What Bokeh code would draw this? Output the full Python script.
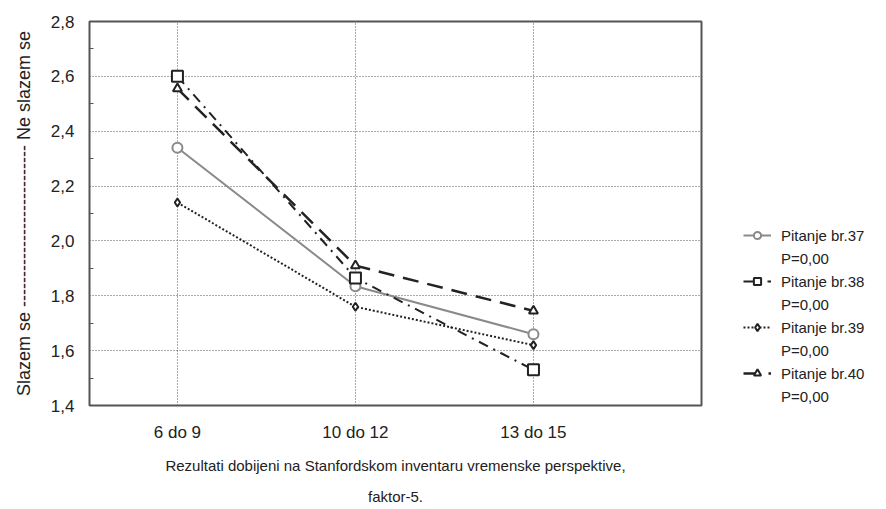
from bokeh.plotting import figure
from bokeh.layouts import row
from bokeh.models import (Legend, LegendItem, LinearAxis, FixedTicker, Range1d)
from bokeh.embed import file_html
from bokeh.resources import INLINE

categories = ["6 do 9", "10 do 12", "13 do 15"]
p37 = [2.34, 1.835, 1.66]
p38 = [2.60, 1.865, 1.53]
p39 = [2.14, 1.76, 1.62]
p40 = [2.555, 1.91, 1.745]
y_ticks = [1.4, 1.6, 1.8, 2.0, 2.2, 2.4, 2.6, 2.8]
y_tick_labels = ["1,4", "1,6", "1,8", "2,0", "2,2", "2,4", "2,6", "2,8"]
legend_names = ["Pitanje br.37", "Pitanje br.38", "Pitanje br.39", "Pitanje br.40"]
legend_p = ["P=0,00", "P=0,00", "P=0,00", "P=0,00"]
caption1 = "Rezultati dobijeni na Stanfordskom inventaru vremenske perspektive,"
caption2 = "faktor-5."
y_title = "Slazem se --------------------------- Ne slazem se"

FONT = "Liberation Sans"
xs = list(range(len(categories)))
minor_y = [round((a + b) / 2, 2) for a, b in zip(y_ticks, y_ticks[1:])]

p = figure(width=704, height=507, output_backend="svg", toolbar_location=None,
           x_range=Range1d(-0.494, 2.944), y_range=Range1d(1.4, 2.8),
           min_border_left=89, min_border_right=3, min_border_top=21,
           min_border_bottom=94)
p.background_fill_color = "white"
p.border_fill_color = "white"
p.outline_line_color = "#555555"
p.outline_line_width = 2

# axes
p.xaxis.ticker = FixedTicker(ticks=xs)
p.xaxis.major_label_overrides = {i: c for i, c in enumerate(categories)}
p.yaxis.ticker = FixedTicker(ticks=y_ticks, minor_ticks=minor_y)
p.yaxis.major_label_overrides = {v: l for v, l in zip(y_ticks, y_tick_labels)}
for ax in (p.xaxis[0], p.yaxis[0]):
    ax.axis_line_color = None
    ax.major_tick_line_color = "#555555"
    ax.major_tick_out = 0
    ax.major_tick_in = 0
    ax.minor_tick_out = 0
    ax.major_label_text_font = FONT
    ax.major_label_text_color = "#222222"
p.yaxis.minor_tick_in = 4
p.yaxis.minor_tick_line_color = "#555555"
p.xaxis.minor_tick_line_color = None
p.xaxis.major_label_text_font_size = "17px"
p.yaxis.major_label_text_font_size = "17px"
p.xaxis.major_label_standoff = 17
p.yaxis.major_label_standoff = 15
p.yaxis.axis_label = y_title
p.yaxis.axis_label_text_font = FONT
p.yaxis.axis_label_text_font_size = "18px"
p.yaxis.axis_label_text_font_style = "normal"
p.yaxis.axis_label_text_color = "#222222"
p.yaxis.axis_label_standoff = 14

# captions as axis labels below the plot
p.xaxis.axis_label = caption1
p.xaxis.axis_label_text_font = FONT
p.xaxis.axis_label_text_font_size = "15px"
p.xaxis.axis_label_text_font_style = "normal"
p.xaxis.axis_label_text_color = "#222222"
p.xaxis.axis_label_standoff = 12

cap_ax = LinearAxis(ticker=FixedTicker(ticks=[]), axis_line_color=None,
                    major_tick_line_color=None, minor_tick_line_color=None,
                    axis_label=caption2, axis_label_text_font=FONT,
                    axis_label_text_font_size="15px",
                    axis_label_text_font_style="normal",
                    axis_label_text_color="#222222", axis_label_standoff=11)
p.add_layout(cap_ax, "below")

# grid
p.xgrid.grid_line_color = "#555555"
p.xgrid.grid_line_dash = "1 2"
p.xgrid.grid_line_width = 1
p.ygrid.ticker = FixedTicker(ticks=y_ticks[1:-1])
p.ygrid.grid_line_color = "#555555"
p.ygrid.grid_line_dash = "1 2"
p.ygrid.grid_line_width = 1

styles = [
    dict(line=dict(line_color="#8a8a8a", line_width=2),
         marker=dict(marker="circle", size=10, fill_color="white",
                     line_color="#8a8a8a", line_width=2)),
    dict(line=dict(line_color="#222222", line_width=2, line_dash="10 6 2 6"),
         marker=dict(marker="square", size=11, fill_color="white",
                     line_color="#222222", line_width=2)),
    dict(line=dict(line_color="#222222", line_width=2, line_dash="2 2"),
         marker=dict(marker="diamond", size=8, fill_color="white",
                     line_color="#222222", line_width=2)),
    dict(line=dict(line_color="#222222", line_width=2.5, line_dash="16 9"),
         marker=dict(marker="triangle", size=9, fill_color="white",
                     line_color="#222222", line_width=2)),
]
series = [p37, p38, p39, p40]

for ys, st in zip(series, styles):
    p.line(xs, ys, **st["line"])
    p.scatter(xs, ys, **st["marker"])

# legend panel: a second figure whose view lies away from the data,
# so that only its legend shows
lf = figure(width=176, height=507, output_backend="svg", toolbar_location=None,
            x_range=Range1d(10, 11), y_range=Range1d(10, 11),
            x_axis_location=None, y_axis_location=None,
            min_border_left=0, min_border_right=0, min_border_top=0,
            min_border_bottom=0)
lf.outline_line_color = None
lf.grid.visible = False
lf.background_fill_color = "white"
lf.border_fill_color = "white"

items = []
for name, pv, ys, st in zip(legend_names, legend_p, series, styles):
    lr = lf.line(xs, ys, **st["line"])
    mr = lf.scatter(xs, ys, **st["marker"])
    items.append(LegendItem(label=name, renderers=[lr, mr]))
    items.append(LegendItem(label=pv, renderers=[]))

legend = Legend(items=items, location=(39, 0))
legend.label_text_font = FONT
legend.label_text_font_size = "15px"
legend.label_text_color = "#222222"
legend.glyph_width = 28
legend.glyph_height = 18
legend.label_height = 18
legend.label_standoff = 10
legend.spacing = 5
legend.padding = 0
legend.margin = 0
legend.border_line_alpha = 0
legend.background_fill_alpha = 0
lf.add_layout(legend, "center")

layout = row(p, lf, spacing=0)
open("out.html", "w").write(file_html(layout, INLINE))
